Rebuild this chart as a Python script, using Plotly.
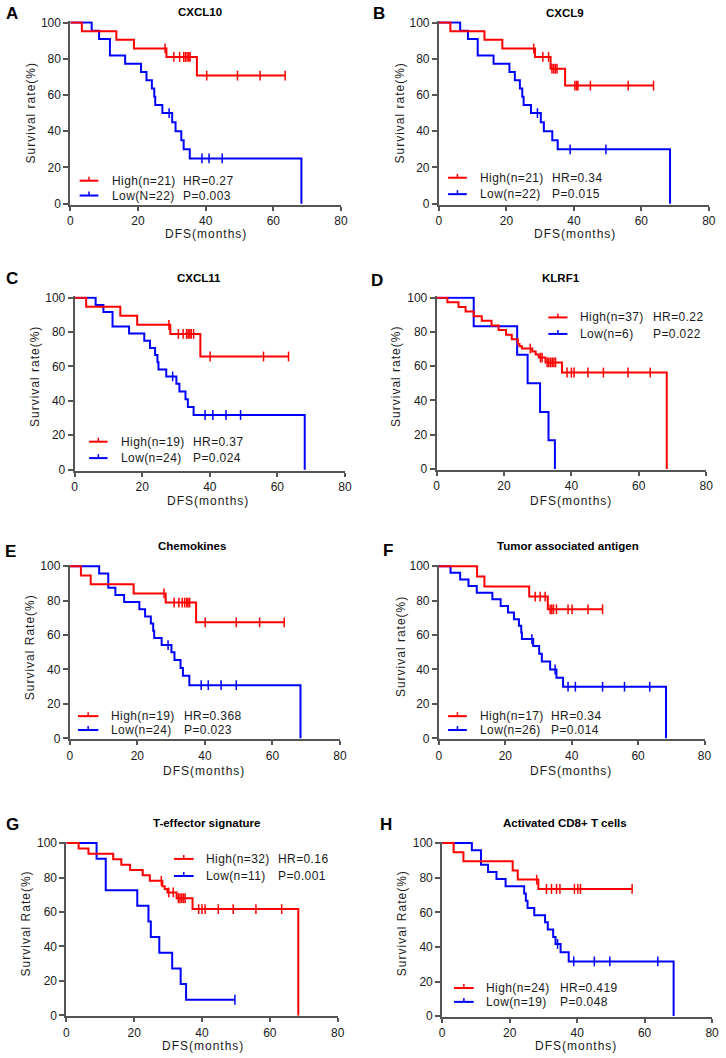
import plotly.graph_objects as go

W, H = 726, 1058

# ---------------- data ----------------
# A: CXCL10
A_high_t = [3.4, 13.6, 18.8, 28.4, 37.4]
A_high_s = [95.2, 90.5, 85.7, 81.0, 70.7]
A_high_c = [28.0, 30.6, 32.3, 33.5, 34.0, 34.5, 35.0, 35.4, 40.3, 49.4, 56.1, 63.5]
A_low_t = [6.3, 8.5, 11.7, 16.2, 20.9, 22.5, 24.1, 24.8, 25.1, 27.2, 30.1, 31.1, 32.8, 33.5, 35.3, 68.3]
A_low_s = [95.5, 90.9, 81.8, 77.3, 72.7, 68.2, 63.6, 59.1, 54.5, 50.0, 45.0, 40.0, 35.0, 30.0, 25.0, 0]
A_low_c = [29.2, 38.9, 41.0, 44.9]

# B: CXCL9
B_high_t = [3.4, 13.5, 18.8, 28.5, 33.1, 37.4]
B_high_s = [95.2, 90.5, 85.7, 81.0, 74.5, 65.2]
B_high_c = [28.1, 30.8, 32.5, 33.5, 34.0, 34.5, 35.0, 40.3, 40.8, 41.2, 44.9, 56.1, 63.6]
B_low_t = [6.3, 8.6, 11.5, 16.2, 20.9, 22.5, 24.0, 24.7, 25.1, 27.3, 30.2, 31.1, 33.6, 35.2, 68.5]
B_low_s = [95.5, 90.9, 81.8, 77.3, 72.7, 68.2, 63.6, 59.1, 54.5, 50.0, 45.0, 40.0, 35.0, 30.0, 0]
B_low_c = [29.2, 38.9, 49.5]

# C: CXCL11
C_high_t = [3.4, 13.5, 18.5, 28.3, 37.2]
C_high_s = [94.7, 89.5, 84.2, 78.9, 65.8]
C_high_c = [27.9, 30.7, 32.1, 33.1, 33.6, 34.1, 34.5, 35.2, 40.1, 55.9, 63.3]
C_low_t = [6.2, 8.5, 11.2, 16.1, 20.6, 22.3, 23.8, 24.5, 24.8, 27.1, 30.1, 31.0, 32.8, 33.5, 35.2, 68.1]
C_low_s = [95.8, 91.7, 83.3, 79.2, 75.0, 70.8, 66.7, 62.5, 58.3, 54.2, 50.0, 45.5, 40.9, 36.4, 31.8, 0]
C_low_c = [29.0, 38.6, 40.9, 44.8, 49.1]

# D: KLRF1
D_high_t = [3.2, 6.5, 8.6, 11.0, 13.4, 16.3, 18.4, 20.6, 22.3, 24.1, 24.6, 25.3, 28.4, 29.4, 30.3, 32.3, 37.2, 68.3]
D_high_s = [97.3, 94.6, 91.9, 89.2, 86.5, 83.8, 81.1, 78.4, 75.7, 73.0, 71.6, 70.3, 68.5, 66.8, 65.0, 62.2, 56.3, 0]
D_high_c = [27.8, 30.8, 31.3, 32.8, 33.3, 33.8, 34.3, 34.8, 35.3, 38.7, 40.0, 40.8, 44.9, 49.5, 56.8, 63.4]
D_low_t = [11.0, 23.9, 27.0, 30.7, 33.2, 35.1]
D_low_s = [83.3, 66.7, 50.0, 33.3, 16.7, 0]
D_low_c = []

# E: Chemokines
E_high_t = [3.3, 6.2, 18.9, 28.4, 37.4]
E_high_s = [94.7, 89.5, 84.2, 78.9, 67.4]
E_high_c = [27.9, 30.9, 32.3, 33.3, 34.0, 34.6, 35.0, 35.5, 40.1, 49.3, 56.2, 63.5]
E_low_t = [8.7, 11.4, 13.5, 16.1, 20.6, 22.3, 24.0, 24.7, 25.0, 27.2, 30.1, 31.0, 32.8, 33.5, 35.4, 68.3]
E_low_s = [95.8, 87.5, 83.3, 79.2, 75.0, 70.8, 66.7, 62.5, 58.3, 54.2, 50.0, 45.5, 40.9, 36.4, 30.9, 0]
E_low_c = [29.1, 38.9, 41.0, 44.8, 49.3]

# F: Tumor associated antigen
F_high_t = [11.5, 13.7, 27.2, 32.8]
F_high_s = [94.1, 88.2, 82.4, 75.0]
F_high_c = [29.0, 30.5, 32.0, 33.5, 34.0, 34.5, 35.4, 38.9, 40.1, 44.9, 49.3]
F_low_t = [3.5, 6.4, 8.9, 11.4, 16.1, 18.6, 20.8, 22.6, 24.1, 24.8, 25.0, 28.4, 30.2, 31.0, 33.5, 35.4, 37.4, 68.4]
F_low_s = [96.2, 92.3, 88.5, 84.6, 80.8, 76.9, 73.1, 69.2, 65.4, 61.5, 57.7, 53.6, 49.2, 44.6, 40.0, 35.2, 30.0, 0]
F_low_c = [28.0, 35.0, 38.9, 41.1, 49.3, 55.9, 63.5]

# G: T-effector signature
G_high_t = [3.6, 6.5, 13.8, 16.2, 18.8, 22.5, 24.6, 28.3, 29.0, 29.8, 32.5, 37.2, 68.4]
G_high_s = [96.9, 93.8, 90.6, 87.5, 84.4, 81.3, 78.1, 75.0, 73.4, 71.4, 68.0, 61.7, 0]
G_high_c = [28.0, 30.2, 31.5, 33.0, 33.5, 34.0, 34.5, 35.0, 39.0, 40.0, 40.9, 44.8, 49.2, 55.9, 63.5]
G_low_t = [8.9, 11.6, 20.9, 24.2, 24.9, 27.4, 31.2, 33.7, 35.3]
G_low_s = [90.9, 72.7, 63.6, 54.5, 45.5, 36.4, 27.3, 18.2, 9.1]
G_low_c = [49.7]

# H: Activated CD8+ T cells
H_high_t = [3.4, 6.3, 20.9, 22.4, 28.5]
H_high_s = [94.7, 89.5, 84.2, 78.9, 73.5]
H_high_c = [28.0, 30.9, 32.4, 33.9, 34.9, 39.2, 40.2, 41.0, 56.3]
H_low_t = [8.8, 11.5, 13.6, 16.1, 18.8, 24.3, 24.8, 25.3, 27.3, 30.5, 31.3, 32.9, 33.6, 35.1, 37.5, 68.6]
H_low_s = [95.8, 87.5, 83.3, 79.2, 75.0, 70.8, 66.7, 62.5, 58.3, 54.2, 50.0, 45.8, 41.7, 36.9, 31.6, 0]
H_low_c = [34.2, 39.0, 45.1, 49.7, 63.9]

letters = ["A", "B", "C", "D", "E", "F", "G", "H"]
titles = ["CXCL10", "CXCL9", "CXCL11", "KLRF1", "Chemokines",
          "Tumor associated antigen", "T-effector signature", "Activated CD8+ T cells"]
ytitles = ["Survival rate(%)", "Survival rate(%)", "Survival rate(%)", "Survival rate(%)",
           "Survival Rate(%)", "Survival rate(%)", "Survival Rate(%)", "Survival Rate(%)"]
xtitle = "DFS(months)"
high_labels = ["High(n=21)", "High(n=21)", "High(n=19)", "High(n=37)",
               "High(n=19)", "High(n=17)", "High(n=32)", "High(n=24)"]
low_labels = ["Low(N=22)", "Low(n=22)", "Low(n=24)", "Low(n=6)",
              "Low(n=24)", "Low(n=26)", "Low(n=11)", "Low(n=19)"]
hr_labels = ["HR=0.27", "HR=0.34", "HR=0.37", "HR=0.22",
             "HR=0.368", "HR=0.34", "HR=0.16", "HR=0.419"]
p_labels = ["P=0.003", "P=0.015", "P=0.024", "P=0.022",
            "P=0.023", "P=0.014", "P=0.001", "P=0.048"]
x_ticks = [0, 20, 40, 60, 80]
y_ticks = [0, 20, 40, 60, 80, 100]

series = [
    (A_high_t, A_high_s, A_high_c, A_low_t, A_low_s, A_low_c),
    (B_high_t, B_high_s, B_high_c, B_low_t, B_low_s, B_low_c),
    (C_high_t, C_high_s, C_high_c, C_low_t, C_low_s, C_low_c),
    (D_high_t, D_high_s, D_high_c, D_low_t, D_low_s, D_low_c),
    (E_high_t, E_high_s, E_high_c, E_low_t, E_low_s, E_low_c),
    (F_high_t, F_high_s, F_high_c, F_low_t, F_low_s, F_low_c),
    (G_high_t, G_high_s, G_high_c, G_low_t, G_low_s, G_low_c),
    (H_high_t, H_high_s, H_high_c, H_low_t, H_low_s, H_low_c),
]

# ---------------- layout geometry (pixels) ----------------
# x of 0, x of 80, y of 100, y of 0
axes_px = [
    (68.3, 342.7, 16.7, 200.0),
    (442.0, 715.7, 16.7, 200.0),
    (72.7, 346.7, 295.0, 469.0),
    (439.7, 713.0, 295.0, 468.3),
    (67.7, 341.7, 566.7, 740.7),
    (442.0, 711.3, 566.7, 740.7),
    (64.3, 339.3, 846.7, 1021.0),
    (445.3, 719.0, 846.7, 1021.7),
]
letter_pos = [(1, 8), (373, 8), (1, 276), (371, 278), (0, 552), (383, 551), (1, 828), (380, 828)]
title_pos = [(199.3, 6.5), (569.7, 6.7), (199, 275), (566.3, 275), (191.7, 546.7), (573, 546.7),
             (206.7, 826.7), (570.3, 826.7)]
ytitle_pos = [(28, 108), (402.3, 108), (31.7, 375), (398.7, 375), (27.7, 648.3), (403, 648),
              (24.3, 928), (405.3, 928)]
xtitle_pos = [(205.7, 231), (579.7, 231), (208.3, 501), (576.3, 501), (204, 773.3), (576.3, 773.3),
              (202.3, 1051.8), (581.3, 1051.8)]
# legend: row1 y, row2 y, sample x0, sample x1, text1 x, text2 x
legend_pos = [
    (176.7, 191.7, 77.7, 96.7, 108.3, 180.7),
    (173.7, 190.3, 451.3, 470.3, 481.3, 554.7),
    (440.7, 457.3, 87.3, 106.0, 117.3, 191.0),
    (315.0, 331.7, 553.0, 572.3, 583.0, 657.0),
    (718.3, 732.3, 76.0, 96.7, 107.3, 181.0),
    (718.3, 732.3, 451.3, 470.3, 481.3, 554.0),
    (862.7, 880.0, 173.3, 193.3, 204.0, 277.3),
    (993.3, 1007.3, 457.3, 477.3, 488.0, 562.3),
]

RED = "#FF0000"
BLUE = "#0000FF"
AXC = "#555555"
TXT = "#1a1a1a"
FONT = "Liberation Sans, Arial, sans-serif"
Y_LO, Y_HI = -0.5, 100.7


def px(x):
    return x / W


def py(y):
    return 1 - y / H


def step_value(t, s, x):
    v = 100.0
    for ti, si in zip(t, s):
        if ti <= x:
            v = si
    return v


fig = go.Figure()
layout = dict(
    width=W, height=H, margin=dict(l=0, r=0, t=0, b=0),
    paper_bgcolor="white", plot_bgcolor="white", showlegend=False,
    font=dict(family=FONT, color=TXT, size=12),
)
annotations = []
shapes = []

for i in range(8):
    n = "" if i == 0 else str(i + 1)
    x0, x1, y100, y0 = axes_px[i]
    pu = (y0 - y100) / 100.0
    bot = y0 - Y_LO * pu
    top = y100 - (Y_HI - 100) * pu
    axis_common = dict(showline=True, linecolor=AXC, linewidth=2, ticks="outside",
                       tickwidth=2, tickcolor=AXC, showgrid=False, zeroline=False,
                       tickfont=dict(size=12, color=TXT, family=FONT), fixedrange=True)
    layout["xaxis" + n] = dict(domain=[px(x0), px(x1)], anchor="y" + n, range=[0, 80],
                               tickvals=x_ticks, ticklen=4, **axis_common)
    layout["yaxis" + n] = dict(domain=[py(bot), py(top)], anchor="x" + n, range=[Y_LO, Y_HI],
                               tickvals=y_ticks, ticklen=5, **axis_common)

    ht, hs, hc, lt, ls, lc = series[i]
    for (t, s, c, col) in [(lt, ls, lc, BLUE), (ht, hs, hc, RED)]:
        xs = [0] + list(t)
        ys = [100] + list(s)
        if c and max(c) > t[-1]:
            xs.append(max(c))
            ys.append(s[-1])
        fig.add_trace(go.Scatter(x=xs, y=ys, mode="lines", line=dict(color=col, width=2, shape="hv"),
                                 xaxis="x" + n, yaxis="y" + n, hoverinfo="skip"))
        if c:
            cy = [step_value(t, s, cx) for cx in c]
            fig.add_trace(go.Scatter(x=c, y=cy, mode="markers", cliponaxis=False,
                                     marker=dict(symbol="line-ns", size=7, color=col,
                                                 line=dict(color=col, width=1.5)),
                                     xaxis="x" + n, yaxis="y" + n, hoverinfo="skip"))

    # panel letter
    lx, ly = letter_pos[i]
    annotations.append(dict(x=px(lx), y=py(ly), xref="paper", yref="paper", text="<b>%s</b>" % letters[i],
                            showarrow=False, xanchor="left", yanchor="middle",
                            font=dict(size=17, color="black", family=FONT)))
    tx, ty = title_pos[i]
    annotations.append(dict(x=px(tx), y=py(ty), xref="paper", yref="paper", text="<b>%s</b>" % titles[i],
                            showarrow=False, xanchor="center", yanchor="middle",
                            font=dict(size=11.5, color="black", family=FONT)))
    yx, yy = ytitle_pos[i]
    annotations.append(dict(x=px(yx), y=py(yy), xref="paper", yref="paper",
                            text='<span style="letter-spacing:1px">%s</span>' % ytitles[i],
                            showarrow=False, xanchor="center", yanchor="middle", textangle=-90,
                            font=dict(size=12, color=TXT, family=FONT)))
    xx, xy = xtitle_pos[i]
    annotations.append(dict(x=px(xx), y=py(xy), xref="paper", yref="paper",
                            text='<span style="letter-spacing:1px">%s</span>' % xtitle,
                            showarrow=False, xanchor="center", yanchor="middle",
                            font=dict(size=12, color=TXT, family=FONT)))
    r1, r2, sx0, sx1, t1, t2 = legend_pos[i]
    for (ry, col, lab, stat) in [(r1, RED, high_labels[i], hr_labels[i]), (r2, BLUE, low_labels[i], p_labels[i])]:
        shapes.append(dict(type="line", xref="paper", yref="paper", x0=px(sx0), x1=px(sx1),
                           y0=py(ry), y1=py(ry), line=dict(color=col, width=2)))
        mid = (sx0 + sx1) / 2
        shapes.append(dict(type="line", xref="paper", yref="paper", x0=px(mid), x1=px(mid),
                           y0=py(ry), y1=py(ry - 4), line=dict(color=col, width=1.5)))
        annotations.append(dict(x=px(t1), y=py(ry), xref="paper", yref="paper",
                                text='<span style="letter-spacing:0.4px">%s</span>' % lab,
                                showarrow=False, xanchor="left", yanchor="middle",
                                font=dict(size=12, color=TXT, family=FONT)))
        annotations.append(dict(x=px(t2), y=py(ry), xref="paper", yref="paper",
                                text='<span style="letter-spacing:0.4px">%s</span>' % stat,
                                showarrow=False, xanchor="left", yanchor="middle",
                                font=dict(size=12, color=TXT, family=FONT)))

layout["annotations"] = annotations
layout["shapes"] = shapes
fig.update_layout(**layout)
fig.write_html("out.html", config={"displayModeBar": False, "staticPlot": True},
               post_script="document.body.style.margin='0';document.body.style.overflow='hidden';")
